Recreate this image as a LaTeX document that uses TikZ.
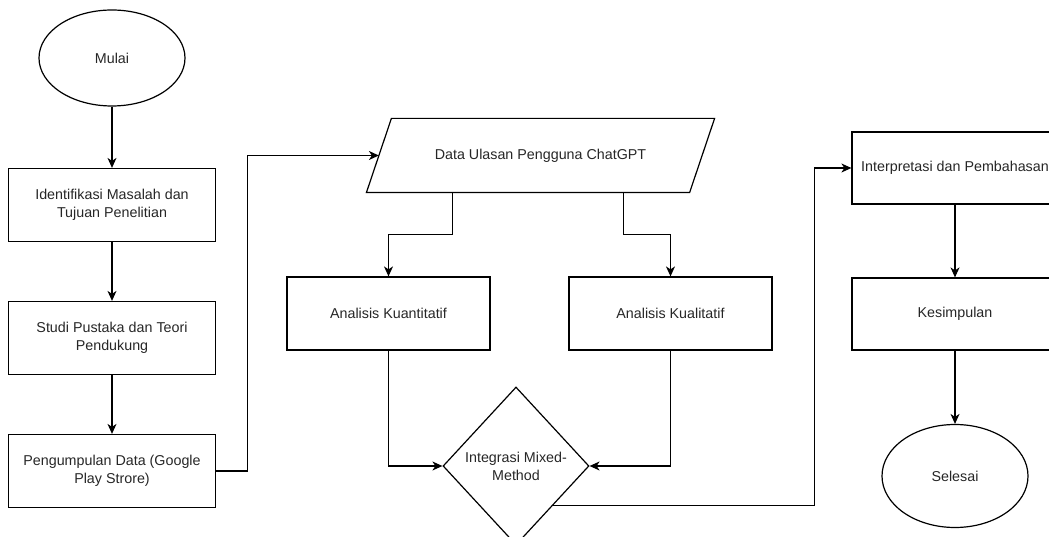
\documentclass[tikz,border=0pt]{standalone}
\usepackage{fontspec}
\setmainfont{Liberation Sans}
\usetikzlibrary{shapes.geometric,arrows.meta}
\begin{document}
\begin{tikzpicture}[x=1pt,y=-1pt,line width=1.2pt,
    every node/.style={draw,inner sep=2pt,align=center,text=black!85,
      font=\fontsize{14.3}{18}\selectfont},
    proc/.style={rectangle,minimum width=207,minimum height=73},
    term/.style={ellipse,minimum width=146},
    arr/.style={-{Stealth[length=10pt,width=9pt,inset=3pt]}}]
    \useasboundingbox (0,0) rectangle (1049,537);
    \node[term,minimum height=96] (mulai) at (112,58) {Mulai};
    \node[proc] (ident) at (112,205) {Identifikasi Masalah dan\\Tujuan Penelitian};
    \node[proc] (studi) at (112,338) {Studi Pustaka dan Teori\\Pendukung};
    \node[proc] (kumpul) at (112,471) {Pengumpulan Data (Google\\Play Strore)};
    \node[draw=none,minimum width=322,minimum height=73]
      (ulasan) at (540.5,155.5) {Data Ulasan Pengguna ChatGPT};
    \draw ([xshift=12.5]ulasan.north west) -- ([xshift=12.5]ulasan.north east)
      -- ([xshift=-12.5]ulasan.south east) -- ([xshift=-12.5]ulasan.south west) -- cycle;
    \node[proc,minimum width=203] (kuan) at (388.5,313.5) {Analisis Kuantitatif};
    \node[proc,minimum width=203] (kual) at (670.5,313.5) {Analisis Kualitatif};
    \node[diamond,inner sep=0pt,minimum width=146,minimum height=158]
      (mix) at (516,466) {Integrasi Mixed-\\Method};
    \node[proc,minimum width=206,minimum height=72] (interp) at (955,168)
      {Interpretasi dan Pembahasan};
    \node[proc,minimum width=206,minimum height=72] (simpul) at (955,314) {Kesimpulan};
    \node[term,minimum height=103] (selesai) at (955,476) {Selesai};
    \draw[arr] (mulai) -- (ident);
    \draw[arr] (ident) -- (studi);
    \draw[arr] (studi) -- (kumpul);
    \draw[arr] (kumpul.east) -- ++(31,0) |- (ulasan.west);
    \draw[arr] ([xshift=-88]ulasan.south) -- ++(0,42) -| (kuan.north);
    \draw[arr] ([xshift=83]ulasan.south) -- ++(0,42) -| (kual.north);
    \draw[arr] (kuan.south) |- (mix.west);
    \draw[arr] (kual.south) |- (mix.east);
    \draw[arr] (mix.south east) -| ([xshift=-37]interp.west) -- (interp.west);
    \draw[arr] (interp) -- (simpul);
    \draw[arr] (simpul) -- (selesai);
\end{tikzpicture}
\end{document}
